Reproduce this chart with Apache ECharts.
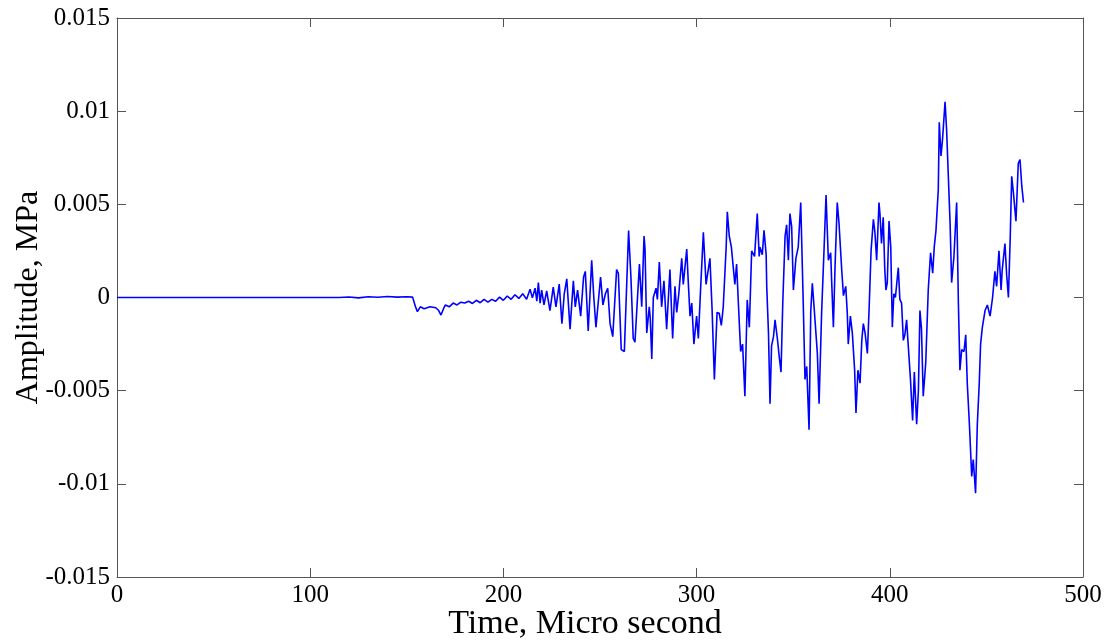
<!DOCTYPE html>
<html>
<head>
<meta charset="utf-8">
<script src="https://cdn.jsdelivr.net/npm/echarts@6/dist/echarts.min.js"></script>
<style>
html,body{margin:0;padding:0;background:#fff;}
#chart{width:1107px;height:643px;}
</style>
</head>
<body>
<div id="chart"></div>
<script>
// Time (micro second) and amplitude (MPa)
const timeUs = [
0,115,120,125,130,135,140,145,150,153,154.5,155.5,157,159,162,165,166.5,167.7,169,170,
172,174,176,178,180,182,184,186,188,190,192,194,196,198,200,202,204,206,208,210,
212,213.8,215,216.4,217.3,218.1,219,219.8,221,222.4,224.1,225.8,227.2,228.9,230.3,231.5,232.8,234.5,236.2,237.2,
238.4,240.0,241.5,242.4,243.9,245.7,246.8,247.9,250.3,251.5,252.8,254,255.2,256.6,258.6,259.5,261.0,262.6,264.8,266.0,
267.2,268.1,270.4,271.6,272.8,273.3,274.2,275.5,276.0,276.8,277.6,279.0,279.7,280.7,281.9,283.1,284.5,286.2,287.6,288.8,
289.7,290.8,292.3,293.1,294.9,295.7,296.6,297.5,298.6,300.0,300.9,302.0,303.5,304.9,306.9,308.0,309.2,310.6,311.7,312.8,
313.8,315.3,315.9,316.9,318.0,319.0,319.8,320.7,321.8,322.8,323.8,325.0,326.2,327.3,328.5,330.0,331.4,332.4,332.8,334.0,
334.9,336.0,336.3,337.2,338.0,338.8,339.8,340.6,341.8,342.8,343.7,344.6,345.8,346.6,347.5,348.3,349.2,350.1,351.4,352.6,
353.9,355.2,356.1,357.0,358.2,359.1,359.9,360.8,361.6,362.5,363.4,364.7,365.9,367.0,368.2,369.4,369.9,370.8,371.7,372.8,
373.7,375.1,376.0,377.2,378.0,378.5,379.6,380.6,381.8,382.5,383.5,384.6,385.5,386.3,387.2,388.4,389.4,390.3,391.5,392.3,
393.2,394.4,394.9,395.7,396.6,397.4,398.0,398.7,399.6,400.5,401.3,402.1,402.9,404.4,405.2,406.1,407.0,407.8,408.7,409.5,
410.7,411.8,412.7,413.9,414.8,415.6,416.4,417.3,418.6,419.9,421.1,422.2,423.0,423.9,425.1,425.6,426.5,427.3,428.6,429.4,
430.3,431.2,432.0,433.2,434.6,435.0,435.5,436.3,437.2,438.4,439.3,440.1,441.2,442.4,443.2,444.4,445.3,446.3,447.0,447.9,
449.3,450.5,451.9,453.2,454.4,455.3,456.5,457.6,458.2,459.6,460.5,461.4,462.3,463.1,464.0,465.3,466.5,467.4,468.3,469.2
];
const amplitudeMPa = [
0,0,0.00003,-0.00002,0.00004,0.00001,0.00005,0.00002,0.00004,0.00002,-0.0005,-0.00076,-0.0005,-0.0006,-0.0005,-0.00055,-0.0007,-0.00094,-0.0006,-0.0004,
-0.0005,-0.0003,-0.0004,-0.00025,-0.0003,-0.0002,-0.00032,-0.00015,-0.00028,-0.0001,-0.00025,-0.0001,-0.0002,0.00002,-0.00015,0.00008,-0.0001,0.00015,-0.00005,0.0002,
-0.0001,0.00044,-0.00002,0.0005,-0.0002,0.0008,-0.0003,0.0004,-0.0004,0.00035,-0.0007,0.00056,-0.0005,0.00072,-0.0014,0.0002,0.001,-0.0017,0.0009,-0.0005,
0.0004,-0.001,0.0011,0.0014,-0.0018,0.002,0.0,-0.0016,0.0011,-0.0004,0.0002,0.0005,-0.0014,-0.0021,0.0015,0.0013,-0.0028,-0.0029,0.0036,0.0011,
-0.0022,-0.0024,0.0018,-0.0005,0.0033,0.0026,-0.0019,-0.0005,-0.0011,-0.0033,0.0,0.0005,-0.0001,0.0019,-0.0005,0.0009,-0.0017,0.0015,-0.0022,0.0006,
-0.0008,0.0002,0.0021,0.0007,0.0026,0.0008,-0.001,-0.0003,-0.0025,-0.001,-0.0022,0.0003,0.0035,0.0007,0.0021,-0.0006,-0.0044,-0.0008,-0.00085,-0.0015,
-0.0005,0.0027,0.0046,0.0033,0.0027,0.0016,0.0007,0.0018,-0.0007,-0.0029,-0.0025,-0.0053,-0.00013,-0.0016,0.0025,0.0022,0.0045,0.0022,0.0027,0.0023,
0.0036,0.0023,0.0006,-0.0019,-0.0057,-0.0026,-0.0021,-0.0012,-0.0022,-0.0032,-0.004,-0.0003,0.0033,0.0039,0.002,0.0045,0.0038,0.0004,0.0021,0.0027,
0.0051,-0.0003,-0.0044,-0.0037,-0.0071,-0.0007,0.00076,-0.0005,-0.0004,-0.003,-0.0057,-0.00085,0.0024,0.0055,0.002,0.0024,0.0009,-0.0016,0.0018,0.0051,
0.004,0.0015,0.0001,0.0006,-0.00085,-0.0025,-0.001,-0.0019,-0.0039,-0.0062,-0.0039,-0.0046,-0.0023,-0.0014,-0.0019,-0.003,-0.0003,0.0025,0.0042,0.0035,
0.002,0.0051,0.0045,0.0029,0.0043,0.0015,0.0004,0.0008,0.0041,0.0027,-0.0016,0.0002,0.0,0.0016,-0.0001,-0.0003,-0.0023,-0.002,-0.0012,-0.0025,
-0.0044,-0.0066,-0.004,-0.0068,-0.005,-0.0007,-0.0017,-0.0053,-0.0035,0.0004,0.0024,0.0013,0.0027,0.0036,0.0058,0.0094,0.0076,0.0085,0.0105,0.009,
0.0065,0.004,0.0008,0.0022,0.0051,0.0028,-0.0003,-0.0039,-0.0028,-0.0029,-0.002,-0.0046,-0.0068,-0.0096,-0.0087,-0.0105,-0.0068,-0.0046,-0.0025,-0.0016,
-0.0007,-0.0004,-0.001,0.0,0.0014,0.0006,0.0025,0.0004,0.0015,0.0029,0.0012,0.0,0.0031,0.0065,0.0056,0.0041,0.0072,0.0074,0.006,0.0051
];
const xTicks = [0, 100, 200, 300, 400, 500];
const yTicks = [-0.015, -0.01, -0.005, 0, 0.005, 0.01, 0.015];

const seriesData = timeUs.map((t, i) => [t, amplitudeMPa[i]]);
const font = 'Liberation Serif';
const axisColor = '#555555';
const fmtY = v => { const r = parseFloat(Number(v).toFixed(3)); return (r === 0 ? 0 : r).toString(); };

const chart = echarts.init(document.getElementById('chart'), null, {renderer: 'canvas'});
const baseX = {
  type: 'value', min: xTicks[0], max: xTicks[xTicks.length - 1], interval: 100,
  axisLine: {show: true, onZero: false, lineStyle: {color: axisColor, width: 1}},
  axisTick: {show: true, inside: true, length: 9, lineStyle: {color: axisColor}},
  splitLine: {show: false}
};
const baseY = {
  type: 'value', min: yTicks[0], max: yTicks[yTicks.length - 1], interval: 0.005,
  axisLine: {show: true, onZero: false, lineStyle: {color: axisColor, width: 1}},
  axisTick: {show: true, inside: true, length: 9, lineStyle: {color: axisColor}},
  splitLine: {show: false}
};
chart.setOption({
  animation: false,
  backgroundColor: '#ffffff',
  grid: {left: 117, right: 24, top: 18, bottom: 66, containLabel: false, outerBoundsMode: 'none'},
  xAxis: [
    Object.assign({}, baseX, {
      position: 'bottom',
      name: 'Time, Micro second', nameLocation: 'middle', nameGap: 30, nameMoveOverlap: false,
      nameTextStyle: {fontFamily: font, fontSize: 34, color: '#000', padding: [0, 30, 0, 0]},
      axisLabel: {show: true, fontFamily: font, fontSize: 25, color: '#000', margin: 6}
    }),
    Object.assign({}, baseX, {position: 'top', axisLabel: {show: false}})
  ],
  yAxis: [
    Object.assign({}, baseY, {
      position: 'left',
      name: 'Amplitude, MPa', nameLocation: 'middle', nameGap: 72, nameMoveOverlap: false,
      nameTextStyle: {fontFamily: font, fontSize: 32, color: '#000'},
      axisLabel: {show: true, fontFamily: font, fontSize: 25, color: '#000', margin: 7, formatter: fmtY}
    }),
    Object.assign({}, baseY, {position: 'right', axisLabel: {show: false}})
  ],
  series: [{
    type: 'line',
    xAxisIndex: 0, yAxisIndex: 0,
    data: seriesData,
    showSymbol: false,
    symbol: 'none',
    lineStyle: {color: '#0000ff', width: 1.6},
    itemStyle: {color: '#0000ff'}
  }]
});
</script>
</body>
</html>
